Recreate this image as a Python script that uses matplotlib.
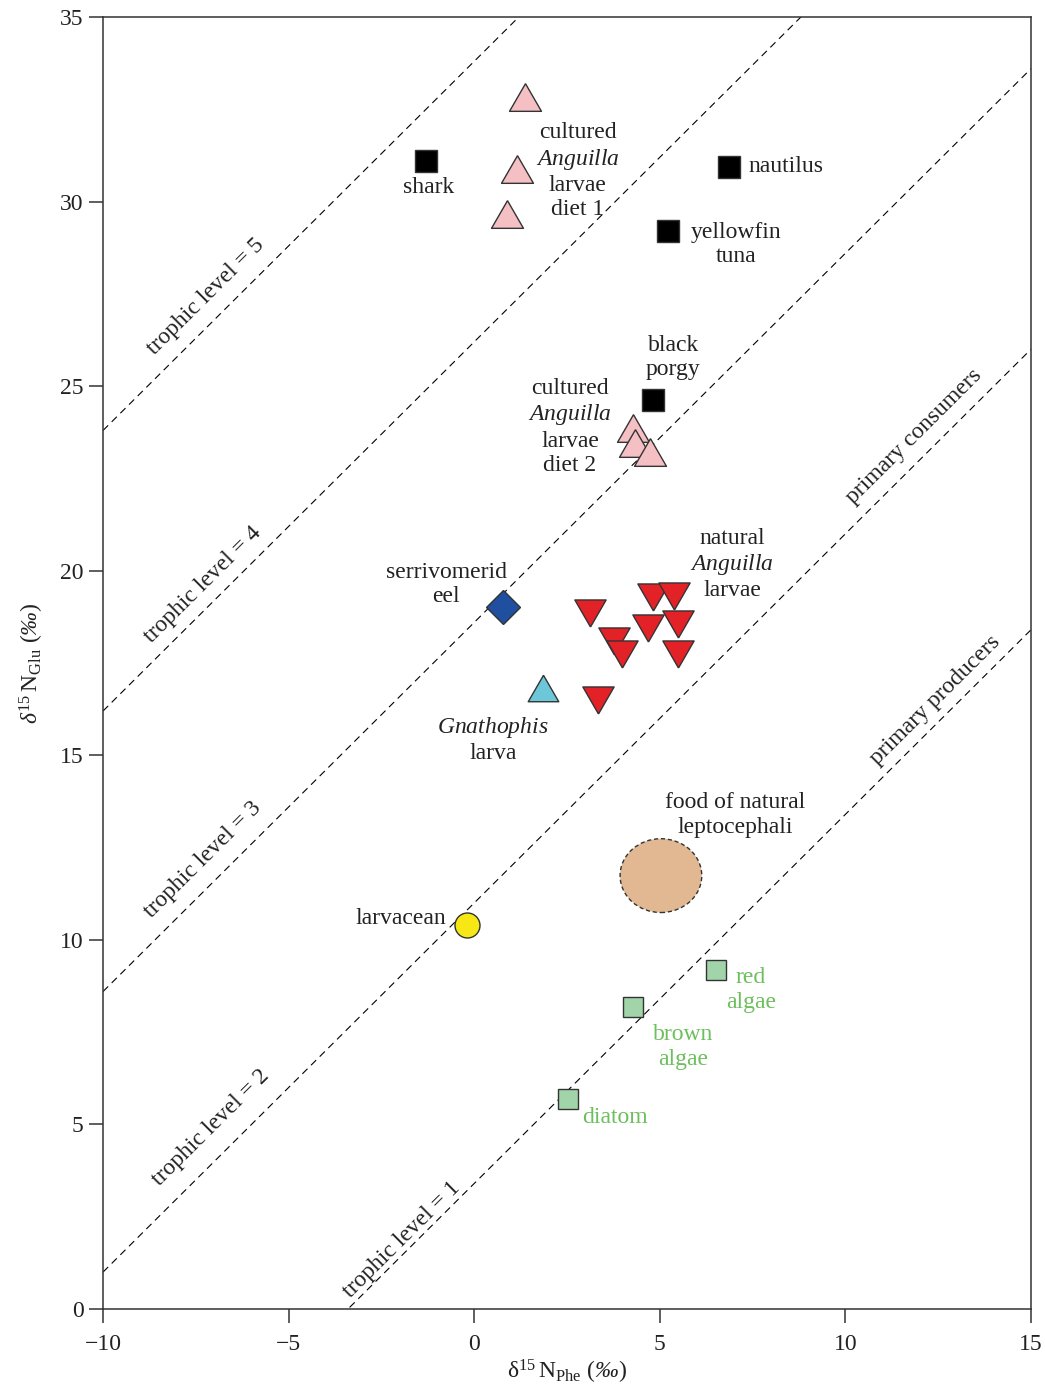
import numpy as np
import matplotlib
matplotlib.use("Agg")
import matplotlib.pyplot as plt
from matplotlib.patches import Ellipse

plt.rcParams['font.family'] = ['Liberation Serif', 'DejaVu Serif']
plt.rcParams['mathtext.fontset'] = 'custom'
plt.rcParams['mathtext.rm'] = 'Liberation Serif'
plt.rcParams['mathtext.it'] = 'Liberation Serif:italic'
plt.rcParams['mathtext.bf'] = 'Liberation Serif:bold'
plt.rcParams['mathtext.sf'] = 'Liberation Serif:italic'

# --- data (delta15N Phe, delta15N Glu, per mil) ---
fish_names = ['shark', 'nautilus', 'yellowfin tuna', 'black porgy']
fish_phe = [-1.30, 6.86, 5.22, 4.82]
fish_glu = [31.10, 30.94, 29.21, 24.63]

diet1_phe = [1.37, 1.15, 0.88]
diet1_glu = [32.84, 30.89, 29.67]

diet2_phe = [4.28, 4.33, 4.73]
diet2_glu = [23.87, 23.46, 23.22]

natural_phe = [3.12, 4.81, 5.38, 3.77, 3.98, 4.67, 5.48, 5.48, 3.33]
natural_glu = [18.86, 19.29, 19.32, 18.10, 17.75, 18.45, 18.56, 17.75, 16.50]

eel_phe, eel_glu = [0.78], [19.02]
gnath_phe, gnath_glu = [1.85], [16.82]
larvacean_phe, larvacean_glu = [-0.19], [10.40]

algae_names = ['red\nalgae', 'brown\nalgae', 'diatom']
algae_phe = [6.51, 4.28, 2.53]
algae_glu = [9.18, 8.19, 5.69]

food_center = (5.03, 11.74)
food_size = (2.2, 2.0)

trophic_levels = [1, 2, 3, 4, 5]
beta = 3.4
tdf = 7.6

# --- figure ---
fig = plt.figure(figsize=(10.45, 13.84), dpi=100)
ax = fig.add_axes([0.0986, 0.0542, 0.888, 0.9335])
ax.set_xlim(-10, 15)
ax.set_ylim(0, 35)

edge = '#333333'
fs = 17

# trophic level lines
xs = np.array([-10, 15])
for tl in trophic_levels:
    ax.plot(xs, xs + beta + tdf * (tl - 1), color='black', lw=0.8,
            ls=(0, (6.5, 4.5)), zorder=1)

rot = 44.8
tl_labels = [('trophic level = 5', -7.22, 27.42),
             ('trophic level = 4', -7.31, 19.62),
             ('trophic level = 3', -7.31, 12.16),
             ('trophic level = 2', -7.09, 4.90),
             ('trophic level = 1', -1.95, 1.87),
             ('primary consumers', 11.85, 23.65),
             ('primary producers', 12.41, 16.50)]
for txt, x, y in tl_labels:
    ax.text(x, y, txt, rotation=rot, ha='center', va='center',
            rotation_mode='anchor', fontsize=fs, color='#222222')

# food ellipse
ax.add_patch(Ellipse(food_center, food_size[0], food_size[1], fc='#e2b892',
                     ec=edge, ls=(0, (3, 2)), lw=1.0, zorder=2))

tri_up = [(0, 0.433), (-0.5, -0.433), (0.5, -0.433), (0, 0.433)]
tri_dn = [(0, -0.433), (-0.5, 0.433), (0.5, 0.433), (0, -0.433)]

ax.plot(fish_phe, fish_glu, ls='none', marker='s', ms=15.5, mfc='black',
        mec=edge, mew=1.0, zorder=3)
for x, y in zip(diet1_phe, diet1_glu):
    ax.plot([x], [y], ls='none', marker=tri_up, ms=23, mfc='#f5c0c4',
            mec=edge, mew=1.0, zorder=3)
for x, y in zip(diet2_phe, diet2_glu):
    ax.plot([x], [y], ls='none', marker=tri_up, ms=23, mfc='#f5c0c4',
            mec=edge, mew=1.0, zorder=3)
for x, y in zip(natural_phe, natural_glu):
    ax.plot([x], [y], ls='none', marker=tri_dn, ms=22.5, mfc='#e32228',
            mec=edge, mew=1.0, zorder=3)
ax.plot(eel_phe, eel_glu, ls='none', marker='D', ms=17.5, mfc='#1f4f9e',
        mec=edge, mew=1.0, zorder=3)
ax.plot(gnath_phe, gnath_glu, ls='none', marker=tri_up, ms=22, mfc='#6cc7d9',
        mec=edge, mew=1.0, zorder=3)
ax.plot(larvacean_phe, larvacean_glu, ls='none', marker='o', ms=18, mfc='#f7e815',
        mec=edge, mew=1.0, zorder=3)
ax.plot(algae_phe, algae_glu, ls='none', marker='s', ms=14.5, mfc='#a1d4a9',
        mec=edge, mew=1.0, zorder=3)

# annotations
ls_ = 1.2
tc = '#222222'
ax.text(-1.22, 30.37, 'shark', ha='center', va='center', fontsize=fs, color=tc)
ax.text(2.79, 30.83, 'cultured\n$\\mathit{Anguilla}$\nlarvae\ndiet 1', ha='center',
        va='center', fontsize=fs, color=tc, linespacing=ls_)
ax.text(7.40, 30.94, 'nautilus', ha='left', va='center', fontsize=fs, color=tc)
ax.text(7.05, 28.84, 'yellowfin\ntuna', ha='center', va='center', fontsize=fs,
        color=tc, linespacing=ls_)
ax.text(5.36, 25.78, 'black\nporgy', ha='center', va='center', fontsize=fs,
        color=tc, linespacing=ls_)
ax.text(2.58, 23.90, 'cultured\n$\\mathit{Anguilla}$\nlarvae\ndiet 2', ha='center',
        va='center', fontsize=fs, color=tc, linespacing=ls_)
ax.text(6.95, 20.17, 'natural\n$\\mathit{Anguilla}$\nlarvae', ha='center',
        va='center', fontsize=fs, color=tc, linespacing=ls_)
ax.text(-0.76, 19.62, 'serrivomerid\neel', ha='center', va='center', fontsize=fs,
        color=tc, linespacing=ls_)
ax.text(0.50, 15.42, '$\\mathit{Gnathophis}$\nlarva', ha='center', va='center',
        fontsize=fs, color=tc, linespacing=ls_)
ax.text(7.02, 13.38, 'food of natural\nleptocephali', ha='center', va='center',
        fontsize=fs, color=tc, linespacing=ls_)
ax.text(-0.76, 10.59, 'larvacean', ha='right', va='center', fontsize=fs, color=tc)

green = '#6cbf5c'
algae_txt = [(7.45, 8.64), (5.62, 7.10), (3.79, 5.20)]
for name, (x, y) in zip(algae_names, algae_txt):
    ax.text(x, y, name, ha='center', va='center', fontsize=fs, color=green,
            linespacing=ls_)

# axes styling
for sp in ax.spines.values():
    sp.set_color(edge)
    sp.set_linewidth(1.1)
ax.set_xticks([-10, -5, 0, 5, 10, 15])
ax.set_yticks([0, 5, 10, 15, 20, 25, 30, 35])
ax.tick_params(direction='out', length=10, width=1.1, color=edge,
               labelsize=fs, labelcolor=tc, pad=4)
ax.tick_params(axis='x', pad=8)
ax.set_xlabel('$\\mathrm{\\delta}^{15}\\,\\mathrm{N}_{\\mathrm{Phe}}$ ($\\mathsf{‰}$)',
              fontsize=fs, color=tc, labelpad=2)
ax.set_ylabel('$\\delta^{15}\\,\\mathrm{N}_{\\mathrm{Glu}}$ ($\\mathsf{‰}$)',
              fontsize=fs, color=tc, labelpad=10)

fig.savefig('out.png', dpi=100)
